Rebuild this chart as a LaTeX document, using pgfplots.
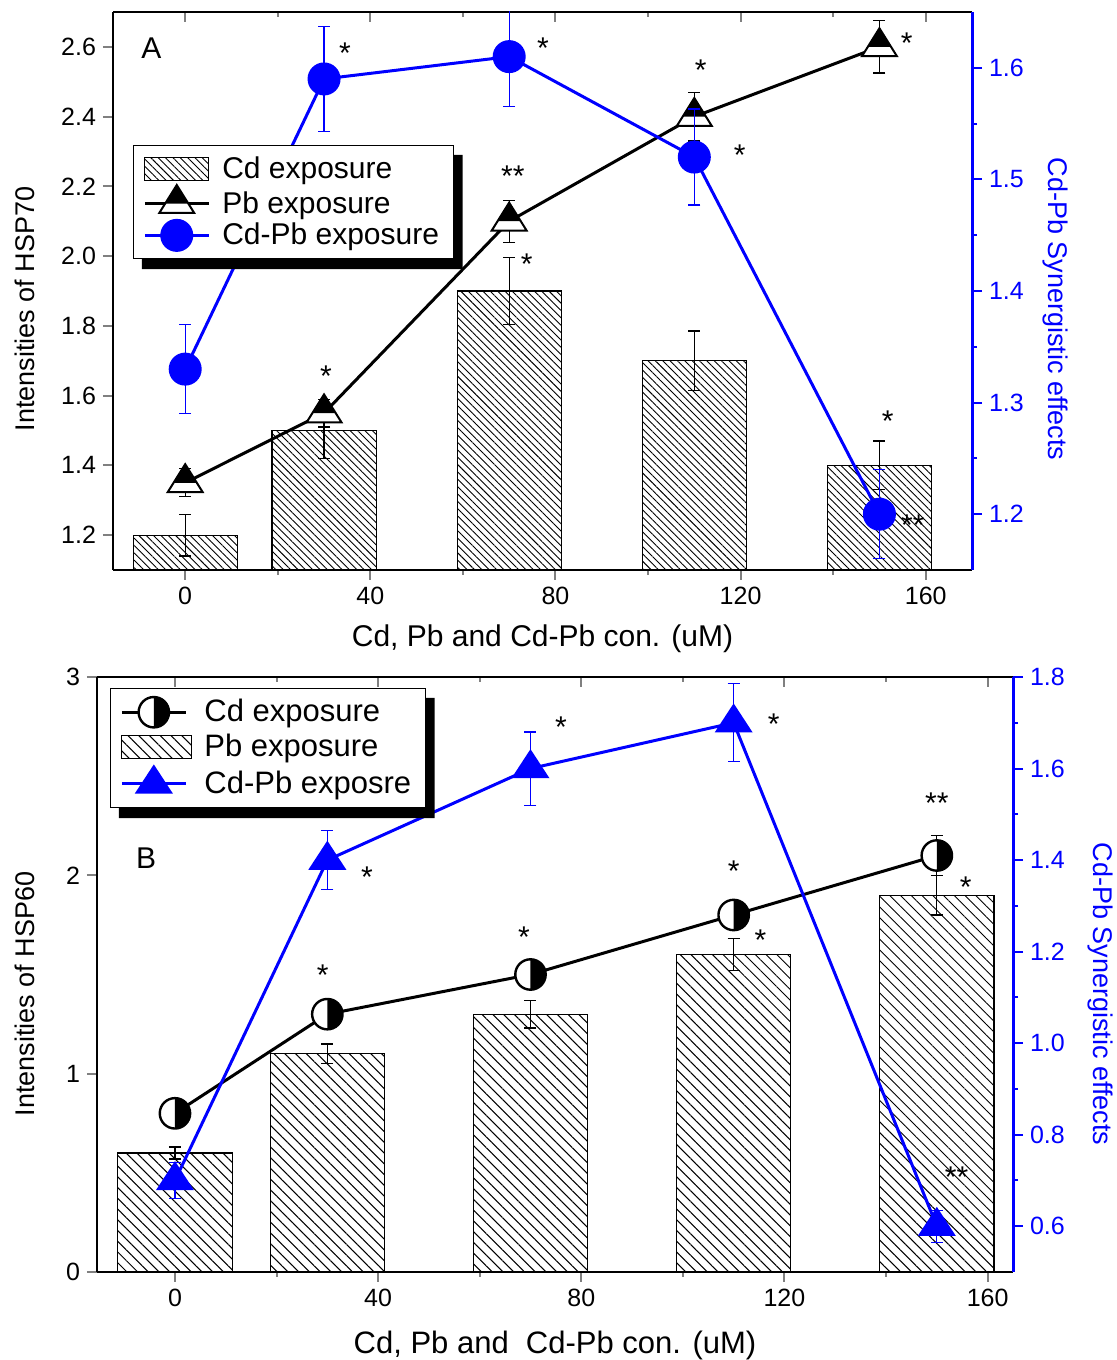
\documentclass[border=0pt]{standalone}
\usepackage{pgfplots}
\usepackage{pgfplotstable}
\pgfplotsset{compat=1.18}
\usepackage{fontspec}
\setmainfont{Liberation Sans}
\usetikzlibrary{patterns.meta}

% half-filled triangle (upper part black)
\pgfdeclareplotmark{halftri}{%
  \pgfsetlinewidth{1pt}%
  \pgfpathmoveto{\pgfqpoint{0pt}{\pgfplotmarksize}}%
  \pgfpathlineto{\pgfqpoint{-0.9375\pgfplotmarksize}{-0.5\pgfplotmarksize}}%
  \pgfpathlineto{\pgfqpoint{0.9375\pgfplotmarksize}{-0.5\pgfplotmarksize}}%
  \pgfpathclose
  \pgfsetfillcolor{white}\pgfusepath{fill}%
  \pgfpathmoveto{\pgfqpoint{0pt}{\pgfplotmarksize}}%
  \pgfpathlineto{\pgfqpoint{-0.625\pgfplotmarksize}{0pt}}%
  \pgfpathlineto{\pgfqpoint{0.625\pgfplotmarksize}{0pt}}%
  \pgfpathclose
  \pgfsetfillcolor{black}\pgfusepath{fill}%
  \pgfpathmoveto{\pgfqpoint{0pt}{\pgfplotmarksize}}%
  \pgfpathlineto{\pgfqpoint{-0.9375\pgfplotmarksize}{-0.5\pgfplotmarksize}}%
  \pgfpathlineto{\pgfqpoint{0.9375\pgfplotmarksize}{-0.5\pgfplotmarksize}}%
  \pgfpathclose
  \pgfsetstrokecolor{black}\pgfusepath{stroke}%
}
% half-filled circle (right half black)
\pgfdeclareplotmark{halfcirc}{%
  \pgfsetlinewidth{1.2pt}%
  \pgfpathcircle{\pgfpointorigin}{\pgfplotmarksize}%
  \pgfsetfillcolor{white}\pgfusepath{fill}%
  \pgfpathmoveto{\pgfqpoint{0pt}{\pgfplotmarksize}}%
  \pgfpatharc{90}{-90}{\pgfplotmarksize}%
  \pgfpathclose
  \pgfsetfillcolor{black}\pgfusepath{fill}%
  \pgfpathcircle{\pgfpointorigin}{\pgfplotmarksize}%
  \pgfsetstrokecolor{black}\pgfusepath{stroke}%
}
% full blue triangle
\pgfdeclareplotmark{fulltri}{%
  \pgfpathmoveto{\pgfqpoint{0pt}{\pgfplotmarksize}}%
  \pgfpathlineto{\pgfqpoint{-0.98\pgfplotmarksize}{-0.5\pgfplotmarksize}}%
  \pgfpathlineto{\pgfqpoint{0.98\pgfplotmarksize}{-0.5\pgfplotmarksize}}%
  \pgfpathclose
  \pgfsetfillcolor{blue}\pgfusepath{fill}%
}

\pgfplotstableread{
x   bar  barerr  pb    pberr  cdpb  cdpberr
0   1.2  0.06    1.35  0.04   1.33  0.04
30  1.5  0.08    1.55  0.04   1.59  0.047
70  1.9  0.095   2.10  0.06   1.61  0.045
110 1.7  0.085   2.40  0.07   1.52  0.043
150 1.4  0.07    2.60  0.075  1.20  0.04
}\dataA

\pgfplotstableread{
x   bar  barerr  cd    cderr  cdpb  cdpberr
0   0.6  0.03    0.8   0.03   0.7   0.04
30  1.1  0.05    1.3   0.04   1.4   0.065
70  1.3  0.07    1.5   0.05   1.6   0.08
110 1.6  0.08    1.8   0.07   1.7   0.085
150 1.9  0.10    2.1   0.10   0.6   0.035
}\dataB

\pgfplotsset{
  base/.style={
    scale only axis, anchor=south west,
    /pgf/number format/assume math mode=true,
    tick label style={font=\fontsize{12.5}{14}\selectfont},
    major tick length=5pt, minor tick length=2.5pt,
    every tick/.append style={line width=1pt},
    label style={font=\fontsize{13.5}{16}\selectfont},
    legend cell align=left,
    legend image code/.code={\draw[mark repeat=2,mark phase=2,##1] plot coordinates {(0pt,0pt) (16pt,0pt) (32pt,0pt)};},
  },
  onedec/.style={yticklabel style={/pgf/number format/fixed,/pgf/number format/fixed zerofill,/pgf/number format/precision=1}},
  errstyle/.style={error bars/.cd, y dir=both, y explicit,
     error bar style={line width=0.6pt,#1},
     error mark options={rotate=90,line width=0.6pt,mark size=3pt,#1}},
}
\newcommand{\st}[2]{\node[font=\fontsize{15}{17}\selectfont,inner sep=0pt,yshift=-3.8pt] at (axis cs:#1) {#2};}
\newcommand{\shadow}[1]{\fill[black] ([yshift=-5pt]#1.north east) -- ([xshift=4.5pt,yshift=-5pt]#1.north east) -- ([xshift=4.5pt,yshift=-5pt]#1.south east) -- ([xshift=4.5pt,yshift=-5pt]#1.south west) -- ([xshift=4.5pt]#1.south west) -- (#1.south east) -- cycle;}

\begin{document}
\begin{tikzpicture}
\path[use as bounding box] (0pt,0pt) rectangle (558.5pt,680pt);

% ===================== Panel A =====================
\begin{axis}[base, at={(56.5pt,395pt)}, width=429.5pt, height=279pt,
  xmin=-15.6, xmax=170, ymin=1.1, ymax=2.7,
  axis x line*=bottom, axis y line*=left, tick align=outside,
  axis line style={line width=1.1pt},
  xtick={0,40,80,120,160}, minor xtick={20,60,100,140},
  ytick={1.2,1.4,1.6,1.8,2.0,2.2,2.4,2.6}, onedec,
  xlabel={Cd, Pb and Cd-Pb con. (uM)},
  xlabel style={font=\fontsize{15}{18}\selectfont, at={(axis description cs:0.5,-0.124)}, anchor=center},
  ylabel={Intensities of HSP70},
  ylabel style={at={(axis description cs:-0.1024,0.468)}, anchor=center},
]
\addplot[ybar, bar width=22.5, bar shift=0pt, draw=black, line width=0.6pt,
  pattern={Lines[angle=-45,distance=2.6pt,line width=0.45pt]},
  errstyle=black] table[x=x,y=bar,y error=barerr]{\dataA};
\addplot[black, line width=1.5pt, mark=halftri, mark size=9.3pt,
  errstyle=black] table[x=x,y=pb,y error=pberr]{\dataA};
\st{34.5,2.603}{*}
\st{77.3,2.617}{*}
\st{111.4,2.554}{*}
\st{155.9,2.631}{*}
\st{119.8,2.311}{*}
\st{70.8,2.251}{**}
\st{73.8,1.999}{*}
\st{30.4,1.678}{*}
\st{151.8,1.549}{*}
\st{157.2,1.249}{**}
\node[font=\fontsize{15}{17}\selectfont] at (axis cs:-7.3,2.597) {A};
\end{axis}

\begin{axis}[base, at={(56.5pt,395pt)}, width=429.5pt, height=279pt,
  xmin=-15.6, xmax=170, ymin=1.15, ymax=1.65,
  axis x line*=top, axis y line*=right,
  xtick align=inside, ytick align=outside,
  x axis line style={line width=1.1pt, black},
  y axis line style={line width=1.5pt, blue},
  xtick={0,40,80,120,160}, minor xtick={20,60,100,140}, xticklabels={},
  ytick={1.2,1.3,1.4,1.5,1.6}, minor ytick={1.25,1.35,1.45,1.55},
  ytick style={blue}, onedec,
  yticklabel style={blue},
  ylabel={Cd-Pb Synergistic effects},
  ylabel style={blue, rotate=180, at={(axis description cs:1.0966,0.468)}, anchor=center},
  legend style={name=legA, at={(0.023,0.762)}, anchor=north west,
    font=\fontsize{15}{17}\selectfont, draw=black, line width=0.5pt, fill=white,
    inner xsep=5pt, inner ysep=3.5pt, row sep=-0.5pt,
    /tikz/every odd column/.append style={column sep=4pt}},
]
\addlegendimage{legend image code/.code={\draw[draw=black,line width=0.6pt,pattern={Lines[angle=-45,distance=2.6pt,line width=0.45pt]}] (0pt,-5.75pt) rectangle (32pt,5.75pt);}}
\addlegendentry{Cd exposure}
\addlegendimage{black, line width=1.5pt, mark=halftri, mark size=9.3pt}
\addlegendentry{Pb exposure}
\addplot[blue, line width=1.5pt, mark=*, mark size=7.5pt, mark options={fill=blue, draw=blue},
  errstyle=blue] table[x=x,y=cdpb,y error=cdpberr]{\dataA};
\addlegendentry{Cd-Pb exposure}
\end{axis}
\shadow{legA}

% ===================== Panel B =====================
\begin{axis}[base, at={(48.5pt,44pt)}, width=458pt, height=297.5pt,
  xmin=-15.35, xmax=165, ymin=0, ymax=3,
  axis x line*=bottom, axis y line*=left, tick align=outside,
  axis line style={line width=1.1pt},
  xtick={0,40,80,120,160}, minor xtick={20,60,100,140},
  ytick={0,1,2,3},
  xlabel={Cd, Pb and \ Cd-Pb con. (uM)},
  xlabel style={font=\fontsize{15.5}{18}\selectfont, at={(axis description cs:0.5,-0.1243)}, anchor=center},
  ylabel={Intensities of HSP60},
  ylabel style={at={(axis description cs:-0.0786,0.467)}, anchor=center},
]
\addplot[ybar, bar width=22.5, bar shift=0pt, draw=black, line width=0.6pt,
  pattern={Lines[angle=-45,distance=3.8pt,line width=0.5pt]},
  errstyle=black] table[x=x,y=bar,y error=barerr]{\dataB};
\addplot[black, line width=1.5pt, mark=halfcirc, mark size=7.6pt,
  errstyle=black] table[x=x,y=cd,y error=cderr]{\dataB};
\st{76.0,2.783}{*}
\st{117.9,2.798}{*}
\st{150.0,2.400}{**}
\st{37.8,2.027}{*}
\st{110.0,2.057}{*}
\st{155.7,1.977}{*}
\st{68.7,1.724}{*}
\st{115.3,1.709}{*}
\st{29.1,1.533}{*}
\st{153.9,0.514}{**}
\node[font=\fontsize{15}{17}\selectfont] at (axis cs:-5.7,2.087) {B};
\end{axis}

\begin{axis}[base, at={(48.5pt,44pt)}, width=458pt, height=297.5pt,
  xmin=-15.35, xmax=165, ymin=0.5, ymax=1.8,
  axis x line*=top, axis y line*=right,
  xtick align=inside, ytick align=outside,
  x axis line style={line width=1.1pt, black},
  y axis line style={line width=1.5pt, blue},
  xtick={0,40,80,120,160}, minor xtick={20,60,100,140}, xticklabels={},
  ytick={0.6,0.8,1.0,1.2,1.4,1.6,1.8}, minor ytick={0.7,0.9,1.1,1.3,1.5,1.7},
  ytick style={blue}, onedec,
  yticklabel style={blue},
  ylabel={Cd-Pb Synergistic effects},
  ylabel style={blue, rotate=180, at={(axis description cs:1.095,0.467)}, anchor=center},
  legend style={name=legB, at={(0.014,0.9815)}, anchor=north west,
    font=\fontsize{15.5}{17}\selectfont, draw=black, line width=0.5pt, fill=white,
    inner xsep=5pt, inner ysep=3.5pt, row sep=0.5pt,
    /tikz/every odd column/.append style={column sep=4pt}},
]
\addlegendimage{black, line width=1.5pt, mark=halfcirc, mark size=7.6pt}
\addlegendentry{Cd exposure}
\addlegendimage{legend image code/.code={\draw[draw=black,line width=0.6pt,pattern={Lines[angle=-45,distance=3.8pt,line width=0.5pt]}] (0pt,-5.75pt) rectangle (35pt,5.75pt);}}
\addlegendentry{Pb exposure}
\addplot[blue, line width=1.5pt, mark=fulltri, mark size=9.7pt,
  errstyle=blue] table[x=x,y=cdpb,y error=cdpberr]{\dataB};
\addlegendentry{Cd-Pb exposre}
\end{axis}
\shadow{legB}
\end{tikzpicture}
\end{document}
